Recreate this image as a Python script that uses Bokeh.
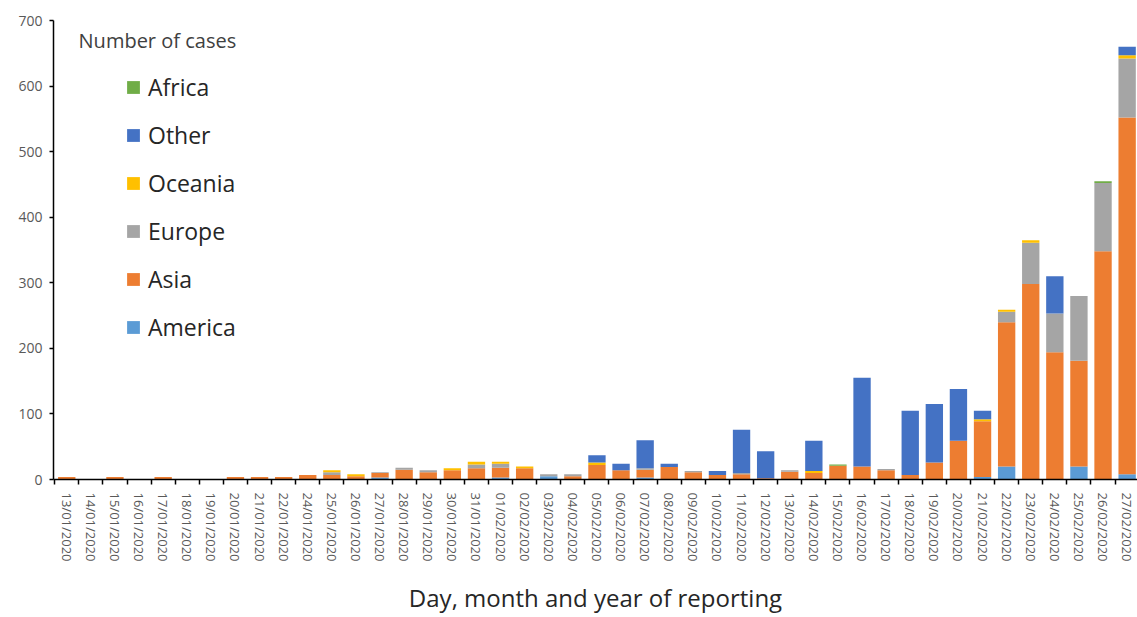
from bokeh.plotting import figure
from bokeh.models import (ColumnDataSource, Range1d, FixedTicker, Legend,
                          LegendItem, Label)
from bokeh.embed import file_html
from bokeh.resources import INLINE

dates = ["13/01/2020", "14/01/2020", "15/01/2020", "16/01/2020", "17/01/2020",
         "18/01/2020", "19/01/2020", "20/01/2020", "21/01/2020", "22/01/2020",
         "24/01/2020", "25/01/2020", "26/01/2020", "27/01/2020", "28/01/2020",
         "29/01/2020", "30/01/2020", "31/01/2020", "01/02/2020", "02/02/2020",
         "03/02/2020", "04/02/2020", "05/02/2020", "06/02/2020", "07/02/2020",
         "08/02/2020", "09/02/2020", "10/02/2020", "11/02/2020", "12/02/2020",
         "13/02/2020", "14/02/2020", "15/02/2020", "16/02/2020", "17/02/2020",
         "18/02/2020", "19/02/2020", "20/02/2020", "21/02/2020", "22/02/2020",
         "23/02/2020", "24/02/2020", "25/02/2020", "26/02/2020", "27/02/2020"]

america = [0, 0, 0, 0, 0, 0, 0, 0, 0, 0,
           0, 0, 0, 3, 0, 0, 0, 0, 3, 0,
           5, 0, 0, 0, 3, 0, 0, 0, 0, 0,
           0, 0, 0, 0, 0, 0, 0, 0, 4, 20,
           0, 0, 20, 0, 8]
asia = [4, 0, 4, 0, 4, 0, 0, 4, 4, 4,
        7, 7, 5, 7, 15, 11, 14, 17, 15, 17,
        0, 5, 22, 14, 12, 19, 11, 7, 8, 2,
        12, 10, 21, 20, 14, 7, 26, 59, 85, 220,
        298, 194, 161, 348, 544]
europe = [0, 0, 0, 0, 0, 0, 0, 0, 0, 0,
          0, 4, 0, 1, 3, 3, 0, 6, 6, 0,
          3, 3, 0, 0, 2, 0, 2, 0, 2, 0,
          2, 0, 0, 0, 2, 0, 0, 0, 0, 16,
          63, 59, 99, 104, 90]
oceania = [0, 0, 0, 0, 0, 0, 0, 0, 0, 0,
           0, 3, 3, 0, 0, 0, 3, 4, 3, 3,
           0, 0, 4, 0, 0, 0, 0, 0, 0, 0,
           0, 3, 0, 0, 0, 0, 0, 0, 3, 3,
           4, 0, 0, 0, 5]
other = [0, 0, 0, 0, 0, 0, 0, 0, 0, 0,
         0, 0, 0, 0, 0, 0, 0, 0, 0, 0,
         0, 0, 11, 10, 43, 5, 0, 6, 66, 41,
         0, 46, 0, 135, 0, 98, 89, 79, 13, 0,
         0, 57, 0, 0, 13]
africa = [0, 0, 0, 0, 0, 0, 0, 0, 0, 0,
          0, 0, 0, 0, 0, 0, 0, 0, 0, 0,
          0, 0, 0, 0, 0, 0, 0, 0, 0, 0,
          0, 0, 2, 0, 0, 0, 0, 0, 0, 0,
          0, 0, 0, 3, 0]

series = ["America", "Asia", "Europe", "Oceania", "Other", "Africa"]
colors = ["#5B9BD5", "#ED7D31", "#A5A5A5", "#FFC000", "#4472C4", "#70AD47"]
y_ticks = [0, 100, 200, 300, 400, 500, 600, 700]

source = ColumnDataSource(data=dict(
    x=list(range(len(dates))), America=america, Asia=asia, Europe=europe,
    Oceania=oceania, Other=other, Africa=africa))

FONT = "Open Sans"

p = figure(width=1137, height=617,
           x_range=Range1d(-0.55, 44.43), y_range=Range1d(0, 700),
           output_backend="svg", toolbar_location=None,
           min_border_left=53, min_border_right=0, min_border_top=20,
           min_border_bottom=0)
p.outline_line_color = None
p.xgrid.visible = False
p.ygrid.visible = False
p.background_fill_color = "white"
p.border_fill_color = "white"

renderers = p.vbar_stack(series, x="x", width=0.72, color=colors,
                         line_color=None, source=source)

# x axis
p.xaxis.ticker = FixedTicker(ticks=list(range(len(dates))),
                             minor_ticks=[i - 0.5 for i in range(len(dates) + 1)])
p.xaxis.major_label_overrides = {i: d for i, d in enumerate(dates)}
p.xaxis.major_label_orientation = "vertical"
p.xaxis.major_tick_line_color = None
p.xaxis.major_tick_out = 5
p.xaxis.major_tick_in = 0
p.xaxis.minor_tick_line_color = "black"
p.xaxis.minor_tick_line_width = 1.5
p.xaxis.minor_tick_out = 5
p.xaxis.minor_tick_in = 0
p.xaxis.major_label_standoff = 8
p.xaxis.major_label_text_font = FONT
p.xaxis.major_label_text_font_size = "13px"
p.xaxis.major_label_text_color = "#595959"
p.xaxis.axis_line_color = "black"
p.xaxis.axis_line_width = 1.5
p.xaxis.axis_label = "Day, month and year of reporting"
p.xaxis.axis_label_text_font = FONT
p.xaxis.axis_label_text_font_style = "normal"
p.xaxis.axis_label_text_font_size = "24px"
p.xaxis.axis_label_text_color = "#262626"
p.xaxis.axis_label_standoff = 17

# y axis
p.yaxis.ticker = FixedTicker(ticks=y_ticks)
p.yaxis.minor_tick_line_color = None
p.yaxis.major_tick_out = 4
p.yaxis.major_tick_in = 0
p.yaxis.major_tick_line_color = "black"
p.yaxis.major_tick_line_width = 1.5
p.yaxis.axis_line_color = "black"
p.yaxis.axis_line_width = 1.5
p.yaxis.major_label_standoff = 7
p.yaxis.major_label_text_font = FONT
p.yaxis.major_label_text_font_size = "14px"
p.yaxis.major_label_text_color = "#595959"

# legend
items = [LegendItem(label=s, renderers=[r])
         for s, r in zip(series[::-1], renderers[::-1])]
legend = Legend(items=items, location=(72, 136), orientation="vertical",
                padding=0, margin=0, spacing=16, label_height=32,
                glyph_width=16, glyph_height=16, label_standoff=7,
                label_text_font=FONT, label_text_font_size="23px",
                label_text_color="#262626", border_line_color=None,
                background_fill_alpha=0)
p.add_layout(legend)

title = Label(x=0.49, y=669, text="Number of cases", text_font=FONT,
              text_font_size="20px", text_baseline="middle",
              text_color="#404040")
p.add_layout(title)

open("out.html", "w").write(file_html(p, INLINE))
